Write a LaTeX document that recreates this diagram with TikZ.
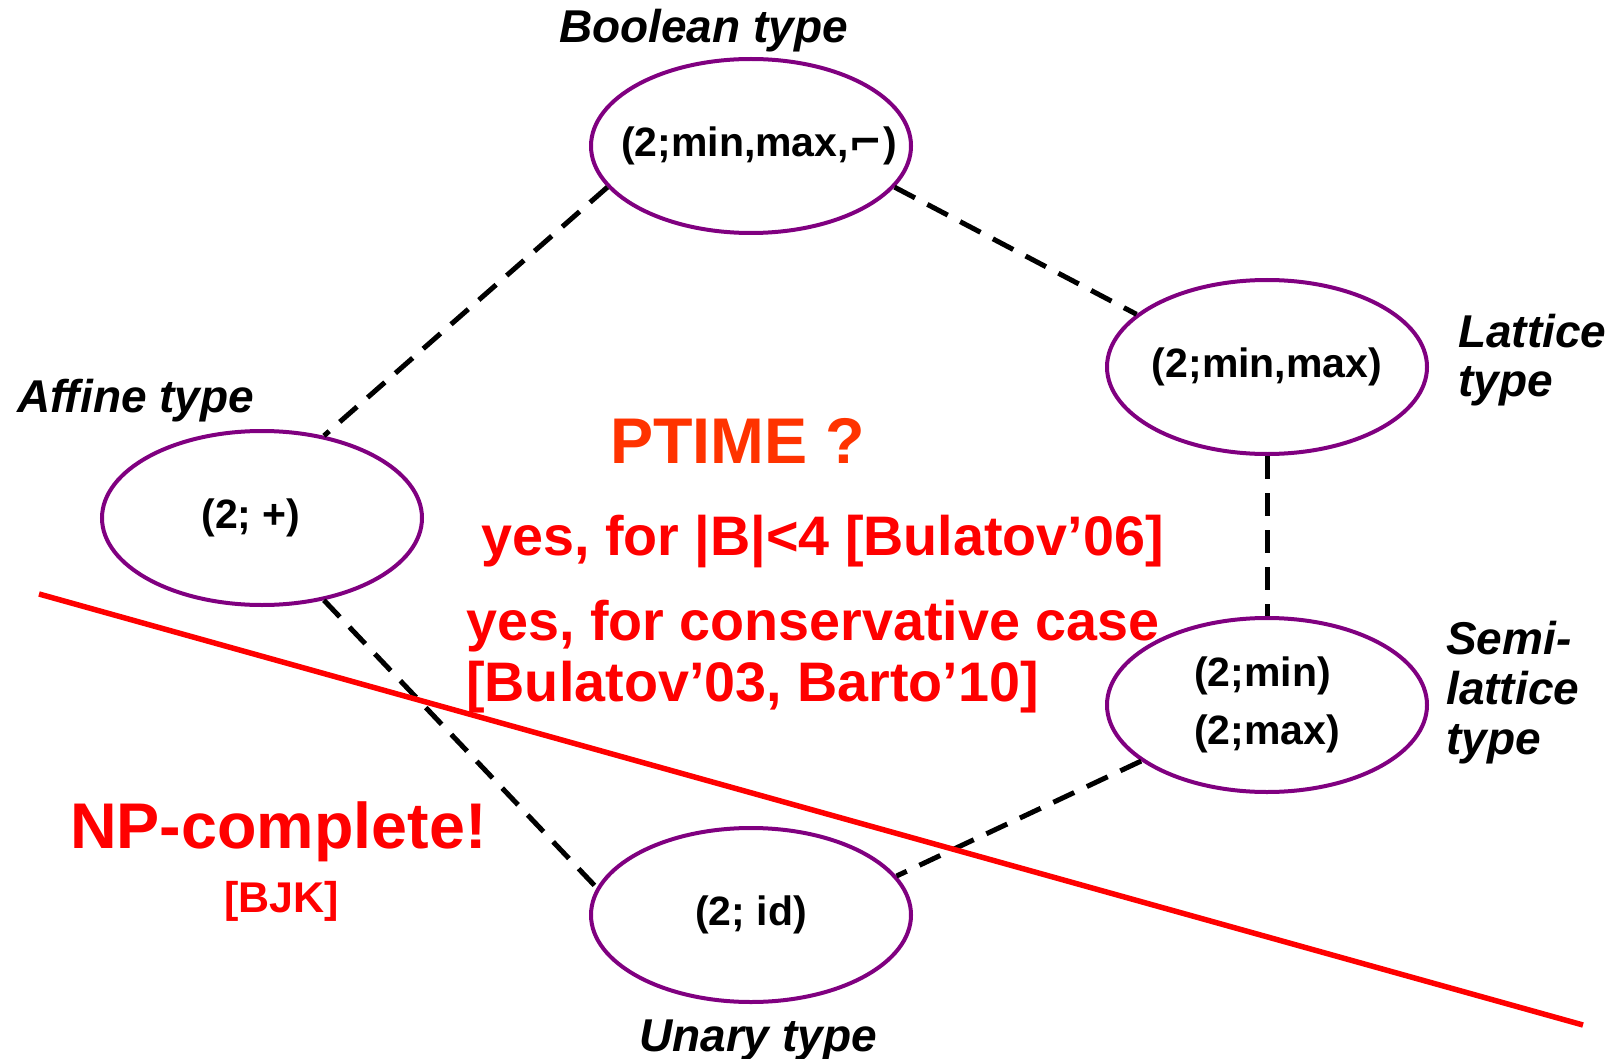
\documentclass[tikz,border=0pt]{standalone}
\usepackage{fontspec}
\setmainfont{Liberation Sans}
\newfontfamily\symbolfont{DejaVu Sans}
\usetikzlibrary{shapes.geometric}
\definecolor{typepurple}{RGB}{128,0,128}
\definecolor{ptimeorange}{RGB}{255,51,0}
\newcommand{\fsz}[1]{\fontsize{#1pt}{1.2\dimexpr #1pt\relax}\selectfont}
\begin{document}
\begin{tikzpicture}[x=1pt,y=-1pt,
  typebox/.style={ellipse, draw=typepurple, line width=4pt,
    minimum width=320pt, minimum height=174pt, inner xsep=-40pt, inner ysep=0pt,
    align=left, font=\fsz{41}\bfseries},
  typename/.style={anchor=base west, inner sep=0pt, font=\fsz{46}\bfseries\itshape},
  link/.style={draw=black, line width=5pt, dash pattern=on 23pt off 14pt},
  verdict/.style={anchor=base west, inner sep=0pt, text=red, font=\fsz{55.7}\bfseries},
  headline/.style={anchor=base west, inner sep=0pt, font=\fsz{64.6}\bfseries}]
\useasboundingbox (0,0) rectangle (1614,1059);

% clone types (the leading skips nudge the labels off centre)
\node[typebox] (bool)  at (751,146)  {\hspace*{16pt}(2;min,max,{\symbolfont\bfseries ⌐})};
\node[typebox] (latt)  at (1267,367) {(2;min,max)};
\node[typebox] (aff)   at (262,518)  {\hspace*{-22pt}(2; +)};
\node[typebox] (semi)  at (1267,705) {(2;min)\\[9pt](2;max)};
\node[typebox] (unary) at (751,915)  {(2; id)};

% names of the types
\node[typename] (boolname)  at (559,43)   {Boolean type};
\node[typename] (lattname1) at (1458,347) {Lattice};
\node[typename] (lattname2) at (1458,396) {type};
\node[typename] (affname)   at (17,412)   {Affine type};
\node[typename] (seminame1) at (1446,654) {Semi-};
\node[typename] (seminame2) at (1446,704) {lattice};
\node[typename] (seminame3) at (1446,754) {type};
\node[typename] (unaryname) at (639,1051) {Unary type};

% order between the types
\draw[link] (bool.196) -- (aff.53);
\draw[link] (bool.344) -- (latt.158);
\draw[link] (latt.south) -- (semi.north);
\draw[link] (aff.307) -- (unary.170);
\draw[link] (semi.204) -- (unary.15);

% dividing line
\coordinate (cutwest) at (39,594);
\coordinate (cuteast) at (1583,1025);
\draw[red, line width=5.5pt] (cutwest) -- (cuteast);

% complexity results
\node[headline, text=ptimeorange] (ptime) at (610,463) {PTIME ?};
\node[verdict] (small)  at (481,555) {yes, for |B|<4 [Bulatov’06]};
\node[verdict] (cons1)  at (466,640) {yes, for conservative case};
\node[verdict] (cons2)  at (466,701) {[Bulatov’03, Barto’10]};
\node[headline, text=red] (npc) at (70,848) {NP-complete!};
\node[anchor=base west, inner sep=0pt, text=red, font=\fsz{43}\bfseries] (bjk) at (224,912) {[BJK]};
\end{tikzpicture}
\end{document}
